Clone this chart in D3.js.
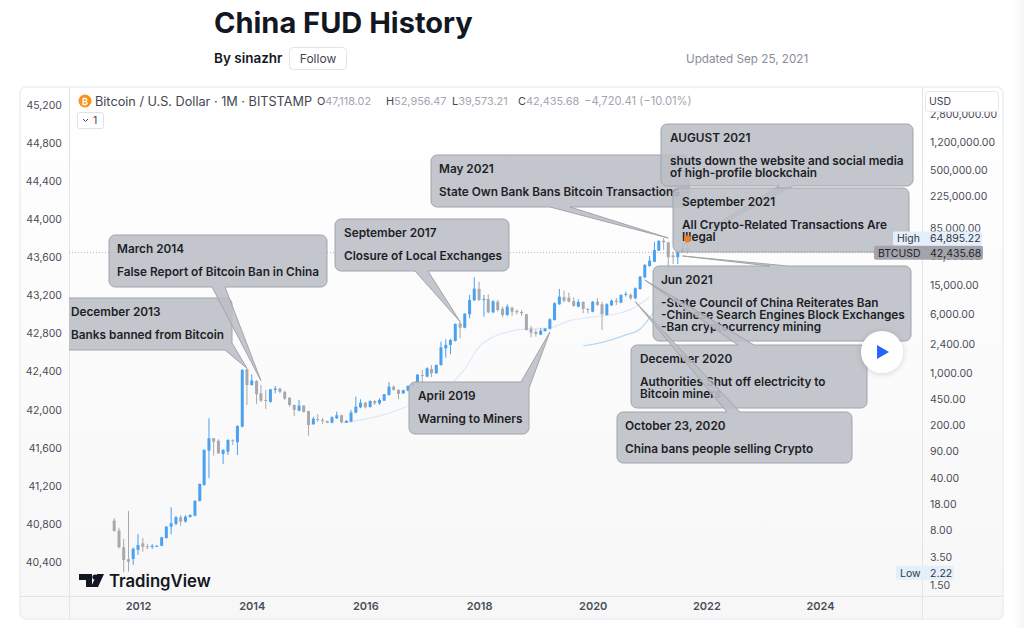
<!DOCTYPE html>
<html>
<head>
<meta charset="utf-8">
<title>China FUD History</title>
<script src="https://cdn.jsdelivr.net/npm/d3@7"></script>
<style>
  html, body { margin: 0; padding: 0; background: #fff; }
  svg { display: block; font-family: Inter, "Noto Sans", sans-serif; }
</style>
</head>
<body>
<svg id="chart" width="1024" height="628"></svg>
<script>
// monthly candles, Aug 2011 to Sep 2021 in left-axis units
const firstMonth = new Date(Date.UTC(2011, 7, 1));
const candleOpen = [
  40835,40729,40555,40429,40432,40527,40597,40565,40561,40561,
  40571,40652,40771,40800,40870,40824,40873,40886,41041,41209,
  41570,41700,41674,41535,41559,41679,41658,41822,42424,42259,
  42301,42172,42102,42081,42207,42221,42186,42126,42049,41989,
  42042,41986,41847,41902,41892,41881,41863,41910,41941,41863,
  41874,41969,42025,42073,42028,42091,42067,42095,42154,42241,
  42207,42172,42200,42249,42281,42364,42347,42427,42383,42469,
  42645,42680,42722,42907,42861,43002,43149,43268,43152,43163,
  43023,43134,43061,42995,43071,43037,43026,43002,42848,42816,
  42788,42826,42851,42942,43107,43181,43176,43142,43082,43131,
  43058,43029,43134,43107,42995,43096,43145,43124,43205,43205,
  43170,43268,43390,43509,43554,43670,43775,43758,43620,43601,
  43656,43698];
const candleHigh = [
  40860,40760,40642,40936,40551,40695,40652,40589,40589,40576,
  40665,40778,40975,40884,40891,40891,40900,41050,41225,41585,
  41910,41703,41690,41584,41689,41689,41836,42427,42435,42372,
  42312,42259,42207,42217,42249,42231,42200,42131,42056,42102,
  42049,41989,41926,41955,41913,41884,41931,41979,41948,41892,
  41997,42136,42109,42084,42098,42102,42120,42165,42291,42256,
  42214,42210,42256,42280,42375,42417,42445,42469,42476,42714,
  42739,42743,42906,42924,43015,43205,43391,43344,43205,43212,
  43152,43152,43082,43107,43082,43055,43047,43005,42879,42844,
  42855,42858,42960,43128,43268,43250,43229,43181,43159,43138,
  43068,43142,43170,43134,43118,43159,43173,43212,43240,43223,
  43285,43405,43530,43614,43765,43782,43803,43764,43660,43660,
  43723,43740];
const candleLow = [
  40719,40544,40292,40299,40369,40474,40509,40534,40537,40555,
  40566,40645,40691,40786,40781,40813,40865,40880,41035,41200,
  41280,41517,41535,41430,41524,41629,41524,41815,42049,42252,
  42060,42081,42007,42073,42172,42172,42102,42032,41934,41983,
  41969,41727,41839,41871,41847,41860,41857,41902,41857,41860,
  41868,41962,42015,42015,42021,42049,42049,42091,42147,42200,
  42109,42165,42193,42240,42275,42281,42340,42343,42376,42462,
  42546,42582,42715,42750,42855,42960,43142,43142,42977,43012,
  43012,43029,42970,42984,42984,43002,42985,42830,42760,42766,
  42781,42819,42840,42935,43100,43128,43128,43082,43075,43012,
  43012,43023,43092,42837,42987,43089,43100,43117,43187,43152,
  43160,43260,43380,43500,43548,43667,43677,43475,43530,43530,
  43650,43640];
const candleClose = [
  40726,40555,40421,40404,40540,40579,40561,40558,40568,40571,
  40660,40771,40807,40870,40824,40876,40894,41041,41220,41577,
  41700,41664,41542,41577,41682,41671,41829,42417,42259,42305,
  42162,42095,42095,42214,42221,42186,42116,42049,41997,42042,
  41976,41839,41905,41892,41881,41863,41920,41941,41868,41881,
  41969,42032,42073,42025,42091,42067,42102,42162,42241,42207,
  42165,42204,42249,42270,42368,42354,42435,42383,42469,42655,
  42680,42732,42900,42861,43008,43152,43271,43152,43163,43023,
  43138,43047,42995,43082,43029,43023,43012,42837,42809,42795,
  42830,42851,42949,43118,43187,43145,43134,43089,43131,43058,
  43050,43134,43100,43002,43107,43145,43131,43205,43216,43170,
  43275,43397,43520,43565,43677,43772,43758,43601,43601,43656,
  43698,43664];

// the two pale moving averages: month index from firstMonth, then value
const maLongMonths = [48,56,64,70,74,77,80,84,87,92,96,101,106,110,113];
const maLongValues = [41860,41934,42081,42228,42427,42659,42763,42827,42848,42858,42932,42974,43005,43079,43184];
const maShortMonths = [99,103,108,111,113,115,118,121];
const maShortValues = [42669,42706,42785,42848,42963,43084,43142,43194];

const leftTicks = [45200,44800,44400,44000,43600,43200,42800,42400,42000,41600,41200,40800,40400];
const rightTicks = [2800000,1200000,500000,225000,85000,36000,15000,6000,2400,1000,450,200,90,40,18,8,3.5,1.5];
const yearTicks = [2012,2014,2016,2018,2020,2022,2024];

const lastClose = 42435.68;
const allTimeHigh = 64895.22;
const allTimeLow = 2.22;

const ohlcLabels = ["O","H","L","C"];
const ohlcValues = ["47,118.02","52,956.47","39,573.21","42,435.68"];
const changeLabel = "\u22124,720.41 (\u221210.01%)";

const calloutTitles = ["December 2013","March 2014","September 2017","April 2019","May 2021","Jun 2021",
  "December 2020","October 23, 2020","September 2021","AUGUST 2021"];
const calloutBodies = [
  ["Banks banned from Bitcoin"],
  ["False Report of Bitcoin Ban in China"],
  ["Closure of Local Exchanges"],
  ["Warning to Miners"],
  ["State Own Bank Bans Bitcoin Transactions"],
  ["-State Council of China Reiterates Ban","-Chinese Search Engines Block Exchanges","-Ban cryptocurrency mining"],
  ["Authorities Shut off electricity to","Bitcoin miners"],
  ["China bans people selling Crypto"],
  ["All Crypto-Related Transactions Are","Illegal"],
  ["shuts down the website and social media","of high-profile blockchain"]
];
const calloutMonths = [28,31,73,92,117,120,112,110,121,120];
const calloutValues = [42435,42305,42924,42816,43803,43614,43362,43134,43793,43730];

const svg = d3.select("#chart");
const defs = svg.append("defs");

const bg = defs.append("linearGradient").attr("id", "paneBg").attr("x1", 0).attr("x2", 0).attr("y1", 0).attr("y2", 1);
bg.append("stop").attr("offset", "0%").attr("stop-color", "#ffffff");
bg.append("stop").attr("offset", "100%").attr("stop-color", "#f7f7f7");

const gutter = defs.append("linearGradient").attr("id", "gutterBg");
gutter.append("stop").attr("offset", "0%").attr("stop-color", "#ffffff");
gutter.append("stop").attr("offset", "100%").attr("stop-color", "#f6f6f6");

defs.append("clipPath").attr("id", "plotClip").append("rect")
  .attr("x", 69).attr("y", 88).attr("width", 853).attr("height", 508);

const shadow = defs.append("filter").attr("id", "playShadow")
  .attr("x", "-30%").attr("y", "-30%").attr("width", "160%").attr("height", "160%");
shadow.append("feDropShadow").attr("dx", 0).attr("dy", 1).attr("stdDeviation", 3)
  .attr("flood-color", "#000").attr("flood-opacity", 0.16);

// scales: same pixels, linear labels on the left, log prices on the right
const x = d3.scaleUtc()
  .domain([new Date(Date.UTC(2012, 0, 1)), new Date(Date.UTC(2024, 0, 1))])
  .range([138, 820]);
const y = d3.scaleLinear().domain([45200, 40400]).range([105, 562]);
const yPrice = d3.scaleLog().domain([1000, 1000000]).range([373.5, 148.2]);

const monthX = (i) => x(d3.utcMonth.offset(firstMonth, i));

// header
svg.append("text").attr("x", 214).attr("y", 33).attr("font-size", 29).attr("font-weight", 700)
  .attr("fill", "#131722").text("China FUD History");
svg.append("text").attr("x", 214).attr("y", 63).attr("font-size", 13.5).attr("font-weight", 600)
  .attr("fill", "#131722").text("By sinazhr");
svg.append("rect").attr("x", 289.5).attr("y", 47.5).attr("width", 57).attr("height", 22).attr("rx", 4)
  .attr("fill", "#fff").attr("stroke", "#e0e3eb");
svg.append("text").attr("x", 318).attr("y", 63).attr("text-anchor", "middle").attr("font-size", 12)
  .attr("fill", "#434651").text("Follow");
svg.append("text").attr("x", 686).attr("y", 63).attr("font-size", 11.7)
  .attr("fill", "#8a8d96").text("Updated Sep 25, 2021");

// frame
svg.append("rect").attr("x", 1012).attr("y", 0).attr("width", 12).attr("height", 628).attr("fill", "url(#gutterBg)");
svg.append("rect").attr("x", 20).attr("y", 87).attr("width", 983).attr("height", 532).attr("rx", 6)
  .attr("fill", "url(#paneBg)").attr("stroke", "#eceef2").attr("stroke-width", 1.5);
svg.append("line").attr("x1", 69.5).attr("x2", 69.5).attr("y1", 87).attr("y2", 619).attr("stroke", "#e3e4e8");
svg.append("line").attr("x1", 922.5).attr("x2", 922.5).attr("y1", 87).attr("y2", 619).attr("stroke", "#e3e4e8");
svg.append("line").attr("x1", 20).attr("x2", 1003).attr("y1", 596.5).attr("y2", 596.5).attr("stroke", "#e3e4e8");

// axes
const leftAxis = svg.append("g").attr("transform", "translate(62,0)")
  .call(d3.axisLeft(y).tickValues(leftTicks).tickSize(0).tickPadding(0).tickFormat(d3.format(",")));
const rightAxis = svg.append("g").attr("transform", "translate(930,-0.5)")
  .call(d3.axisRight(yPrice).tickValues(rightTicks).tickSize(0).tickPadding(0).tickFormat(d3.format(",.2f")));
const timeAxis = svg.append("g").attr("transform", "translate(0,602)")
  .call(d3.axisBottom(x).tickValues(yearTicks.map((d) => new Date(Date.UTC(d, 0, 1))))
    .tickSize(0).tickPadding(0).tickFormat(d3.utcFormat("%Y")));
[leftAxis, rightAxis, timeAxis].forEach((a) => {
  a.select(".domain").remove();
  a.selectAll("text").attr("font-size", 10.5).attr("fill", "#4a4d57").attr("font-family", "Inter, sans-serif");
});
timeAxis.selectAll("text").attr("font-size", 11).attr("font-weight", 600);

const plot = svg.append("g").attr("clip-path", "url(#plotClip)");

// last price line
plot.append("line").attr("x1", 69).attr("x2", 922)
  .attr("y1", yPrice(lastClose) + 1.4).attr("y2", yPrice(lastClose) + 1.4)
  .attr("stroke", "#b4b5ba").attr("stroke-dasharray", "1,2");

// moving averages
const maLine = d3.line().x((d) => monthX(d[0])).y((d) => y(d[1])).curve(d3.curveMonotoneX);
plot.append("path").datum(d3.zip(maLongMonths, maLongValues)).attr("d", maLine)
  .attr("fill", "none").attr("stroke", "#dbeaf8").attr("stroke-width", 1.2);
plot.append("path").datum(d3.zip(maShortMonths, maShortValues)).attr("d", maLine)
  .attr("fill", "none").attr("stroke", "#b3d8f6").attr("stroke-width", 1.2);

// candles
const upColor = "#4aa1ef";
const downColor = "#a9a8ad";
const candles = plot.append("g").selectAll("g").data(candleOpen).join("g")
  .attr("fill", (d, i) => candleClose[i] >= d ? upColor : downColor)
  .attr("stroke", "none");
candles.append("rect")
  .attr("x", (d, i) => monthX(i) - 0.5).attr("width", 1)
  .attr("y", (d, i) => y(candleHigh[i]))
  .attr("height", (d, i) => y(candleLow[i]) - y(candleHigh[i]));
candles.append("rect")
  .attr("x", (d, i) => monthX(i) - 1.5).attr("width", 3)
  .attr("y", (d, i) => y(Math.max(d, candleClose[i])))
  .attr("height", (d, i) => Math.max(1, Math.abs(y(d) - y(candleClose[i]))));

// callout boxes, same order as the titles; tail says where it leaves the box
const calloutBoxes = [
  { x: 60, y: 298, w: 172, h: 52, textX: 71, tail: { side: "br", a: 343, b: 225 } },
  { x: 109, y: 235, w: 218, h: 52, textX: 117, tail: { side: "bottom", a: 212, b: 225 } },
  { x: 335, y: 219, w: 174, h: 52, textX: 344, tail: { side: "bottom", a: 415, b: 428 } },
  { x: 409, y: 382, w: 120, h: 52, textX: 418, tail: { side: "tr", a: 521, b: 388 } },
  { x: 431, y: 155, w: 258, h: 52, textX: 439, tail: { side: "bottom", a: 550, b: 570 } },
  { x: 653, y: 266, w: 258, h: 75, textX: 661, tail: { side: "top", a: 770, b: 788 } },
  { x: 631, y: 345, w: 236, h: 63, textX: 640, tail: { side: "top", a: 738, b: 754 } },
  { x: 617, y: 412, w: 235, h: 51, textX: 625, tail: { side: "top", a: 727, b: 740 } },
  { x: 673, y: 188, w: 236, h: 64, textX: 682, tail: null },
  { x: 661, y: 124, w: 252, h: 62, textX: 670, tail: { side: "bottom", a: 779, b: 793 } }
];
// Aug 2021 paints before Sep 2021 in the picture
const paintOrder = [0, 1, 2, 3, 4, 5, 6, 7, 9, 8];

function calloutPath(b, tx, ty) {
  const r = 6, p = d3.path(), x1 = b.x + b.w, y1 = b.y + b.h, t = b.tail;
  p.moveTo(b.x + r, b.y);
  if (t && t.side === "top") { p.lineTo(t.a, b.y); p.lineTo(tx, ty); p.lineTo(t.b, b.y); }
  if (t && t.side === "tr") {
    p.lineTo(t.a, b.y); p.lineTo(tx, ty); p.lineTo(x1, t.b);
  } else {
    p.lineTo(x1 - r, b.y); p.arcTo(x1, b.y, x1, b.y + r, r);
  }
  if (t && t.side === "br") {
    p.lineTo(x1, t.a); p.lineTo(tx, ty); p.lineTo(t.b, y1);
  } else {
    p.lineTo(x1, y1 - r); p.arcTo(x1, y1, x1 - r, y1, r);
  }
  if (t && t.side === "bottom") { p.lineTo(t.b, y1); p.lineTo(tx, ty); p.lineTo(t.a, y1); }
  p.lineTo(b.x + r, y1); p.arcTo(b.x, y1, b.x, y1 - r, r);
  p.lineTo(b.x, b.y + r); p.arcTo(b.x, b.y, b.x + r, b.y, r);
  p.closePath();
  return p.toString();
}

const callouts = plot.append("g").selectAll("g").data(paintOrder).join("g");
callouts.append("path")
  .attr("d", (k) => calloutPath(calloutBoxes[k], monthX(calloutMonths[k]), y(calloutValues[k])))
  .attr("fill", "#bcbec6").attr("fill-opacity", 0.88)
  .attr("stroke", "#a2a4ac").attr("stroke-width", 1);
callouts.append("text")
  .attr("x", (k) => calloutBoxes[k].textX).attr("y", (k) => calloutBoxes[k].y + 18)
  .attr("font-size", 11.8).attr("font-weight", 600).attr("fill", "#1d1f26")
  .text((k) => calloutTitles[k]);
callouts.each(function (k) {
  d3.select(this).selectAll("text.body").data(calloutBodies[k]).join("text").attr("class", "body")
    .attr("x", calloutBoxes[k].textX)
    .attr("y", (d, i) => calloutBoxes[k].y + 41 + i * 11.8)
    .attr("font-size", 11.8).attr("font-weight", 600).attr("fill", "#1d1f26")
    .text((d) => d);
});

// orange marker on the last bar
plot.append("circle").attr("cx", monthX(121)).attr("cy", y(43793)).attr("r", 3.5).attr("fill", "#f57c1f");

// price labels
function priceLabel(left, right, cy, name, value, fill, textFill) {
  svg.append("rect").attr("x", left).attr("y", cy - 7).attr("width", right - left).attr("height", 14)
    .attr("rx", 2).attr("fill", fill);
  svg.append("text").attr("x", left + 4).attr("y", cy + 4).attr("font-size", 10.5)
    .attr("fill", textFill).text(name);
  svg.append("text").attr("x", 930).attr("y", cy + 4).attr("font-size", 10.5)
    .attr("fill", textFill).text(value);
}
const priceFmt = d3.format(",.2f");
priceLabel(893, 982, yPrice(allTimeHigh) + 1, "High", priceFmt(allTimeHigh), "#e3effb", "#33363f");
priceLabel(874, 983, yPrice(lastClose) + 1.5, "BTCUSD", priceFmt(lastClose), "#a3a3a9", "#24262d");
priceLabel(896, 954, yPrice(allTimeLow), "Low", priceFmt(allTimeLow), "#e3effb", "#33363f");

// currency box hides the top of the price axis
svg.append("rect").attr("x", 925.5).attr("y", 91.5).attr("width", 73).attr("height", 20).attr("rx", 3)
  .attr("fill", "#fff").attr("stroke", "#e6e7ec");
svg.append("text").attr("x", 929).attr("y", 105).attr("font-size", 10.5).attr("fill", "#434651").text("USD");

// legend
svg.append("circle").attr("cx", 85).attr("cy", 101).attr("r", 6.5).attr("fill", "#f7931a");
svg.append("text").attr("x", 85).attr("y", 104.5).attr("text-anchor", "middle").attr("font-size", 9)
  .attr("font-weight", 700).attr("fill", "#fff").text("\u20bf");
svg.append("text").attr("x", 95).attr("y", 106).attr("font-size", 12.7).attr("fill", "#434651")
  .text("Bitcoin / U.S. Dollar \u00b7 1M \u00b7 BITSTAMP");
const ohlcX = [317, 386, 452, 518];
ohlcLabels.forEach((lab, i) => {
  const t = svg.append("text").attr("x", ohlcX[i]).attr("y", 105).attr("font-size", 10.9).attr("fill", "#a3a6af");
  t.append("tspan").attr("fill", "#434651").text(lab);
  t.append("tspan").text(ohlcValues[i]);
});
svg.append("text").attr("x", 584).attr("y", 105).attr("font-size", 11.2).attr("fill", "#a3a6af").text(changeLabel);

svg.append("rect").attr("x", 77.5).attr("y", 112.5).attr("width", 26).attr("height", 16).attr("rx", 2)
  .attr("fill", "#fff").attr("stroke", "#e0e3eb");
svg.append("path").attr("d", "M83 119 l2.5 2.5 l2.5 -2.5").attr("fill", "none").attr("stroke", "#434651");
svg.append("text").attr("x", 93).attr("y", 124).attr("font-size", 10.5).attr("fill", "#434651").text("1");

// play button
svg.append("circle").attr("cx", 882).attr("cy", 352).attr("r", 21).attr("fill", "#fff").attr("filter", "url(#playShadow)");
svg.append("path").attr("d", "M877 345 L889 352 L877 359 Z").attr("fill", "#2962ff");

// TradingView mark and word
svg.append("path").attr("fill", "#131722")
  .attr("d", "M79 574 H92 V587 H86 V580 H79 Z M97 574 H104 L98 587 H91 Z");
svg.append("circle").attr("cx", 95).attr("cy", 577).attr("r", 2.6).attr("fill", "#131722");
svg.append("text").attr("x", 109).attr("y", 586.5).attr("font-size", 16.7).attr("font-weight", 600)
  .attr("fill", "#131722").text("TradingView");
</script>
</body>
</html>
